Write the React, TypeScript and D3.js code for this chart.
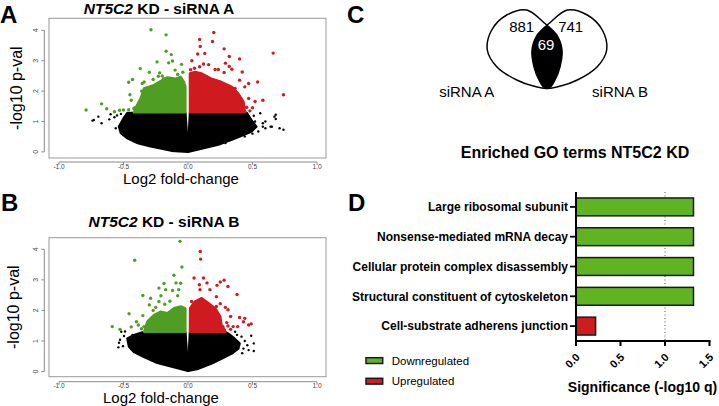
import React from "react";
import * as d3 from "d3";

type Pt = [number, number];

const FONT = "'Liberation Sans', Arial, sans-serif";
const GREEN_DOT = "#4f9e23";
const RED_DOT = "#cf1b1f";
const GREEN_BAR = "#60b321";
const RED_BAR = "#cc1e1e";

// ---- volcano A: [log2 fold-change, -log10 p] ----
const aGreenCloud: Pt[] = [
  [-0.02, 1.3], [-0.419, 1.3], [-0.4, 1.5], [-0.367, 1.76], [-0.341, 2.09], [-0.264, 2.2],
  [-0.199, 2.36], [-0.16, 2.45], [-0.096, 2.41], [-0.057, 2.47], [-0.031, 2.3], [-0.02, 2.14],
];
const aRedCloud: Pt[] = [
  [0.015, 1.3], [0.015, 2.58], [0.054, 2.63], [0.106, 2.58], [0.18, 2.41], [0.26, 2.3],
  [0.34, 2.14], [0.39, 1.92], [0.43, 1.65], [0.44, 1.38], [0.445, 1.3],
];
const aBlackLeft: Pt[] = [
  [-0.02, 1.28], [-0.47, 1.28], [-0.5, 1.1], [-0.535, 0.83], [-0.52, 0.62], [-0.47, 0.45],
  [-0.39, 0.29], [-0.29, 0.18], [-0.13, 0.04], [0, 0],
];
const aBlackRight: Pt[] = [
  [0.015, 1.28], [0.455, 1.28], [0.49, 1.05], [0.53, 0.83], [0.49, 0.67], [0.43, 0.56],
  [0.34, 0.4], [0.235, 0.24], [0.13, 0.13], [0, 0],
];
const aGreenPts: Pt[] = [
  [-0.287, 4.02], [-0.17, 3.85], [-0.17, 3.31], [-0.13, 3.2], [-0.12, 2.99], [-0.24, 2.96],
  [-0.15, 2.93], [-0.05, 2.88], [-0.37, 2.74], [-0.3, 2.62], [-0.22, 2.6], [-0.1, 2.69],
  [-0.43, 2.38], [-0.46, 2.29], [-0.45, 1.88], [-0.67, 1.58], [-0.63, 1.42], [-0.79, 1.38],
  [-0.57, 1.32], [-0.53, 1.37], [-0.5, 1.38], [-0.46, 1.39], [-0.42, 1.43], [-0.39, 1.51],
  [-0.27, 2.38], [-0.34, 2.3], [-0.355, 2.25], [-0.23, 2.49], [-0.19, 2.41], [-0.41, 1.45],
  [-0.38, 1.62], [-0.32, 1.95], [-0.28, 2.12], [-0.2, 2.5], [-0.08, 2.55], [-0.04, 2.62],
  [-0.44, 1.7], [-0.36, 2.0],
];
const aRedPts: Pt[] = [
  [0.2, 3.93], [0.09, 3.7], [0.19, 3.63], [0.095, 3.47], [0.28, 3.39], [0.66, 3.25],
  [0.075, 3.22], [0.13, 3.24], [0.32, 3.14], [0.4, 3.06], [0.03, 3.0], [0.12, 2.89],
  [0.16, 2.87], [0.29, 2.92], [0.32, 2.81], [0.21, 2.71], [0.235, 2.71], [0.34, 2.72],
  [0.42, 2.63], [0.28, 2.61], [0.54, 2.3], [0.47, 2.25], [0.4, 2.36], [0.44, 2.14],
  [0.74, 1.88], [0.58, 1.7], [0.52, 1.66], [0.47, 1.76], [0.455, 1.47], [0.415, 1.54],
  [0.38, 1.71], [0.365, 2.09], [0.05, 2.75], [0.09, 2.8], [0.02, 2.7], [0.48, 1.35], [0.5, 1.45],
];
const aBlackPts: Pt[] = [
  [-0.73, 1.05], [-0.695, 1.16], [-0.67, 0.94], [-0.6, 1.24], [-0.57, 1.14], [-0.56, 0.78],
  [-0.5, 0.56], [-0.5, 0.78], [-0.45, 0.45], [-0.74, 1.03], [-0.61, 1.07], [-0.55, 1.2],
  [-0.52, 1.25], [0.56, 1.27], [0.51, 1.19], [0.68, 1.22], [0.68, 1.08], [0.6, 1.0],
  [0.58, 0.83], [0.6, 0.78], [0.64, 0.83], [0.71, 0.78], [0.74, 0.73], [0.545, 0.67],
  [0.48, 0.83], [0.44, 0.51], [0.29, 0.29], [0.67, 1.16], [0.58, 0.94], [0.65, 0.83],
  [0.52, 1.0], [0.5, 0.6],
];

// ---- volcano B ----
const bGreenCloud: Pt[] = [
  [-0.02, 1.3], [-0.34, 1.3], [-0.316, 1.63], [-0.264, 1.85], [-0.212, 1.96], [-0.16, 1.91],
  [-0.109, 2.07], [-0.057, 2.13], [-0.02, 2.07],
];
const bRedCloud: Pt[] = [
  [0.015, 1.3], [0.016, 2.07], [0.054, 2.29], [0.106, 2.4], [0.157, 2.24], [0.21, 2.07],
  [0.25, 1.8], [0.26, 1.52], [0.285, 1.36], [0.29, 1.3],
];
const bBlackLeft: Pt[] = [
  [-0.02, 1.28], [-0.354, 1.28], [-0.419, 1.19], [-0.47, 1.08], [-0.457, 0.81], [-0.419, 0.64],
  [-0.341, 0.48], [-0.238, 0.28], [-0.134, 0.17], [0, 0.02],
];
const bBlackRight: Pt[] = [
  [0.015, 1.28], [0.29, 1.28], [0.31, 1.25], [0.36, 1.08], [0.4, 0.92], [0.39, 0.75],
  [0.34, 0.59], [0.26, 0.42], [0.18, 0.26], [0.08, 0.09], [0, 0.02],
];
const bGreenPts: Pt[] = [
  [-0.062, 4.26], [-0.413, 3.64], [-0.047, 3.42], [-0.109, 3.15], [-0.093, 2.9], [-0.057, 2.89],
  [-0.186, 2.88], [-0.225, 2.73], [-0.173, 2.68], [-0.12, 2.65], [-0.072, 2.68], [-0.35, 2.49],
  [-0.29, 2.4], [-0.21, 2.48], [-0.225, 2.29], [-0.08, 2.48], [-0.3, 2.18], [-0.457, 1.89],
  [-0.35, 1.83], [-0.4, 1.63], [-0.385, 1.52], [-0.587, 1.47], [-0.527, 1.38], [-0.44, 1.46],
  [-0.34, 1.47], [-0.25, 2.1], [-0.18, 2.2], [-0.14, 2.3], [-0.27, 2.0], [-0.36, 1.4],
];
const bRedPts: Pt[] = [
  [0.095, 3.93], [0.098, 3.68], [0.047, 3.06], [0.12, 3.06], [0.28, 2.99], [0.25, 2.93],
  [0.225, 2.82], [0.31, 2.78], [0.147, 2.9], [0.088, 2.84], [0.093, 2.68], [0.17, 2.68],
  [0.38, 2.52], [0.22, 2.45], [0.028, 2.29], [0.25, 2.22], [0.22, 2.13], [0.29, 2.1],
  [0.31, 2.02], [0.33, 1.8], [0.4, 1.77], [0.44, 1.74], [0.43, 1.63], [0.47, 1.52],
  [0.49, 1.56], [0.385, 1.47], [0.35, 1.47], [0.31, 1.49], [0.27, 1.47], [0.3, 1.6], [0.33, 1.38],
];
const bBlackPts: Pt[] = [
  [-0.517, 1.3], [-0.496, 1.16], [-0.535, 0.94], [-0.504, 0.83], [-0.54, 0.79], [-0.44, 0.75],
  [-0.457, 0.9], [-0.385, 1.01], [-0.488, 1.31], [-0.527, 1.04], [-0.45, 0.82], [-0.43, 1.2],
  [0.49, 1.17], [0.51, 0.92], [0.51, 0.67], [0.46, 0.86], [0.415, 1.14], [0.365, 1.3],
  [0.43, 0.75], [0.47, 0.7], [0.31, 0.7], [0.44, 1.0], [0.38, 1.2], [0.42, 0.6],
];

const fcTicks = [-1, -0.5, 0, 0.5, 1];
const pTicks = [0, 1, 2, 3, 4];

// ---- venn ----
const vennSets = ["siRNA A", "siRNA B"];
const vennCounts = [881, 741, 69];
// outline of the left set, relative to its centre (the right set is its mirror)
const vennOutline: Pt[] = [
  [-33.3, -19], [-18.3, -34], [1.7, -39], [19, -26.3], [31.7, -14], [37, 1], [35, 17.7],
  [30, 31], [24, 39], [8.3, 37], [-8.3, 31], [-28.3, 17.7], [-37.7, 1],
];

// ---- GO terms ----
const goTerms = [
  "Large ribosomal subunit",
  "Nonsense-mediated mRNA decay",
  "Cellular protein complex disassembly",
  "Structural constituent of cytoskeleton",
  "Cell-substrate adherens junction",
];
const goValues = [1.32, 1.32, 1.32, 1.32, 0.22];
const goDirection = ["down", "down", "down", "down", "up"];
const sigTicks = [0, 0.5, 1, 1.5];
const legendLabels = ["Downregulated", "Upregulated"];

function Volcano(props: any) {
  const { title, box, yZero, yFour, axisY, axisX, green, red, blackL, blackR, gPts, rPts, kPts, titleX, titleY, xLabX, xLabY, yLabX } = props;
  const x = d3.scaleLinear().domain([-1, 1]).range([59, 317]);
  const y = d3.scaleLinear().domain([0, 4]).range([yZero, yFour]);
  const hull = d3.line<Pt>().x(d => x(d[0])).y(d => y(d[1])).curve(d3.curveLinearClosed);
  const cloud = (pts: Pt[], c: string) => (
    <path d={hull(pts) || ""} fill={c} stroke={c} strokeWidth={2.4} strokeLinejoin="round" />
  );
  return (
    <g fontFamily={FONT}>
      <text x={titleX} y={titleY} textAnchor="middle" fontSize={15.5} fontWeight="bold">
        <tspan fontStyle="italic">NT5C2</tspan> KD - {title}
      </text>
      <rect x={box[0]} y={box[1]} width={box[2] - box[0]} height={box[3] - box[1]} fill="none" stroke="#9a9a9a" strokeWidth={1} />
      {cloud(blackL, "#000")}
      {cloud(blackR, "#000")}
      {kPts.map((d: Pt, i: number) => <circle key={"k" + i} cx={x(d[0])} cy={y(d[1])} r={1.2} fill="#000" />)}
      {cloud(green, GREEN_DOT)}
      {cloud(red, RED_DOT)}
      {gPts.map((d: Pt, i: number) => <circle key={"g" + i} cx={x(d[0])} cy={y(d[1])} r={1.7} fill={GREEN_DOT} />)}
      {rPts.map((d: Pt, i: number) => <circle key={"r" + i} cx={x(d[0])} cy={y(d[1])} r={1.7} fill={RED_DOT} />)}
      {/* x axis */}
      <line x1={x(-1)} x2={x(1)} y1={axisY} y2={axisY} stroke="#8a8a8a" />
      {fcTicks.map(t => (
        <g key={t}>
          <line x1={x(t)} x2={x(t)} y1={axisY} y2={axisY + 3} stroke="#8a8a8a" />
          <text x={x(t)} y={axisY + 6.5} textAnchor="middle" fontSize={6.5} fill="#444">{t.toFixed(1)}</text>
        </g>
      ))}
      {/* y axis */}
      <line x1={axisX} x2={axisX} y1={y(0)} y2={y(4)} stroke="#8a8a8a" />
      {pTicks.map(t => (
        <g key={t}>
          <line x1={axisX - 3} x2={axisX} y1={y(t)} y2={y(t)} stroke="#8a8a8a" />
          <text transform={`translate(${axisX - 6},${y(t)}) rotate(-90)`} textAnchor="middle" fontSize={7} fill="#444">{t}</text>
        </g>
      ))}
      <text x={xLabX} y={xLabY} textAnchor="middle" fontSize={15}>Log2 fold-change</text>
      <text transform={`translate(${yLabX},${(box[1] + box[3]) / 2}) rotate(-90)`} textAnchor="middle" fontSize={16}>-log10 p-val</text>
    </g>
  );
}

function Venn() {
  const leftC: Pt = [525, 49];
  const axis = 547;
  const rightC: Pt = [2 * axis - leftC[0], leftC[1]];
  const outline = d3.line<Pt>().curve(d3.curveCatmullRomClosed);
  const leftPath = outline(vennOutline.map(d => [leftC[0] + d[0], leftC[1] + d[1]] as Pt)) || "";
  const rightPath = outline(vennOutline.map(d => [rightC[0] - d[0], rightC[1] + d[1]] as Pt)) || "";
  return (
    <g fontFamily={FONT}>
      <defs>
        <clipPath id="vennLeft"><path d={leftPath} /></clipPath>
      </defs>
      <path d={rightPath} fill="#000" clipPath="url(#vennLeft)" />
      <path d={leftPath} fill="none" stroke="#000" strokeWidth={1.5} />
      <path d={rightPath} fill="none" stroke="#000" strokeWidth={1.5} />
      <text x={521.7} y={31.7} textAnchor="middle" fontSize={15}>{vennCounts[0]}</text>
      <text x={570.7} y={31.7} textAnchor="middle" fontSize={15}>{vennCounts[1]}</text>
      <text x={546} y={50} textAnchor="middle" fontSize={15} fill="#fff">{vennCounts[2]}</text>
      <text x={466.7} y={97.3} textAnchor="middle" fontSize={15}>{vennSets[0]}</text>
      <text x={620} y={97.3} textAnchor="middle" fontSize={15}>{vennSets[1]}</text>
    </g>
  );
}

function GoBars() {
  const x = d3.scaleLinear().domain([0, 1.5]).range([576, 709.5]);
  const y = d3.scaleBand<string>().domain(goTerms).range([192, 341]).paddingInner(0.4).paddingOuter(0.2);
  const bw = y.bandwidth();
  return (
    <g fontFamily={FONT}>
      <text x={575} y={158.3} textAnchor="middle" fontSize={16} fontWeight="bold">Enriched GO terms NT5C2 KD</text>
      <line x1={x(1)} x2={x(1)} y1={192} y2={341} stroke="#555" strokeWidth={1} strokeDasharray="1,2.5" />
      {goTerms.map((t, i) => (
        <g key={t}>
          <rect x={x(0)} y={y(t)} width={x(goValues[i]) - x(0)} height={bw}
            fill={goDirection[i] === "down" ? GREEN_BAR : RED_BAR} stroke="#1a1a1a" strokeWidth={1.5} />
          <line x1={570} x2={576} y1={(y(t) || 0) + bw / 2} y2={(y(t) || 0) + bw / 2} stroke="#000" strokeWidth={1.8} />
          <text x={568} y={(y(t) || 0) + bw / 2 + 4.2} textAnchor="end" fontSize={12} fontWeight="bold">{t}</text>
        </g>
      ))}
      <line x1={576} x2={576} y1={192} y2={342} stroke="#000" strokeWidth={2} />
      <line x1={575} x2={x(1.5) + 1} y1={341} y2={341} stroke="#000" strokeWidth={2} />
      {sigTicks.map(t => (
        <g key={t}>
          <line x1={x(t)} x2={x(t)} y1={341} y2={346} stroke="#000" strokeWidth={2} />
          <text transform={`translate(${x(t) + 4.5},${358}) rotate(-45)`} textAnchor="end" fontSize={11} fontWeight="bold">{t.toFixed(1)}</text>
        </g>
      ))}
      <text x={642.5} y={391.7} textAnchor="middle" fontSize={14} fontWeight="bold">Significance (-log10 q)</text>
      {legendLabels.map((l, i) => (
        <g key={l}>
          <rect x={366} y={357.7 + i * 20.6} width={16.7} height={5.8} fill={i === 0 ? GREEN_BAR : RED_BAR} stroke="#1a1a1a" strokeWidth={1.5} />
          <text x={391.7} y={364.6 + i * 20.6} fontSize={11.5}>{l}</text>
        </g>
      ))}
    </g>
  );
}

export default function App() {
  return (
    <svg width={719} height={406} style={{ position: "absolute", left: 0, top: 0, background: "#fff" }}>
      <rect width={719} height={406} fill="#fff" />
      <g fontFamily={FONT} fontWeight="bold" fontSize={24}>
        <text x={0} y={22.7}>A</text>
        <text x={1} y={211}>B</text>
        <text x={347} y={22.7}>C</text>
        <text x={348} y={211}>D</text>
      </g>
      <Volcano title="siRNA A" box={[49, 18.3, 326, 158]} yZero={151.9} yFour={30.3} axisY={162} axisX={44.3}
        green={aGreenCloud} red={aRedCloud} blackL={aBlackLeft} blackR={aBlackRight}
        gPts={aGreenPts} rPts={aRedPts} kPts={aBlackPts}
        titleX={159} titleY={13.5} xLabX={181} xLabY={184} yLabX={22} />
      <Volcano title="siRNA B" box={[49, 237.7, 326, 376.7]} yZero={371.5} yFour={249.3} axisY={381.7} axisX={44.3}
        green={bGreenCloud} red={bRedCloud} blackL={bBlackLeft} blackR={bBlackRight}
        gPts={bGreenPts} rPts={bRedPts} kPts={bBlackPts}
        titleX={164} titleY={227.3} xLabX={161} xLabY={402.5} yLabX={18.5} />
      <Venn />
      <GoBars />
    </svg>
  );
}
